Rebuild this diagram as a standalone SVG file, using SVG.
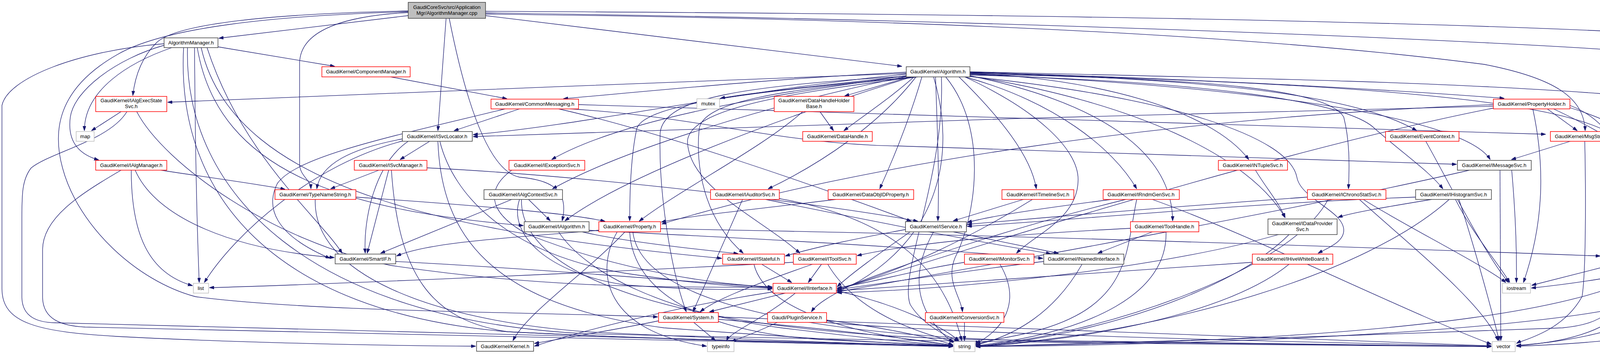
<svg xmlns="http://www.w3.org/2000/svg" width="4553" height="907" viewBox="0 0 4553 907">
<defs>
<marker id="ah" viewBox="0 0 12 8" refX="12" refY="4" markerWidth="12" markerHeight="8" markerUnits="userSpaceOnUse" orient="auto"><path d="M0,0 L12,4 L0,8 z" fill="#191970" stroke="#191970"/></marker>
</defs>
<style>
.n rect{fill:#ffffff;stroke-width:1.5}
.r rect{stroke:#ff0000}
.b rect{stroke:#404040}
.g rect{stroke:#bfbfbf}
.root rect{fill:#bfbfbf;stroke:#404040}
text{font-family:"Liberation Sans",Arial,sans-serif;font-size:13px;text-anchor:middle;fill:#000000}
#edges path{fill:none;stroke:#191970;stroke-width:1.3;marker-end:url(#ah)}
</style>
<rect x="0" y="0" width="4553" height="907" fill="#ffffff"/>
<g id="edges">
<path d="M1045,40 L560,98"/>
<path d="M1045,28 C700,35 450,60 400,110 C360,150 345,200 340,245"/>
<path d="M1045,30 C700,40 420,70 300,140 C160,220 130,320 160,430 C200,580 350,720 500,760 C800,800 1400,800 1684,812"/>
<path d="M1045,32 C900,40 770,70 767,160 L767,420 C767,450 795,460 796,484"/>
<path d="M1142,47 L1121,335"/>
<path d="M1150,47 C1200,300 1260,440 1330,454 C1400,460 1460,480 1439,566"/>
<path d="M1243,40 L2309,170"/>
<path d="M1243,29 Q3600,40 4490,100"/>
<path d="M1243,33 C2500,50 3800,100 4300,140 C4440,155 4453,170 4453,200 L4453,460 C4440,600 4350,660 4270,680 C4150,710 4000,730 3920,738"/>
<path d="M1243,36 C2500,50 3300,100 3800,165 C3980,200 4055,250 4058,335"/>
<path d="M558,120 L857,170"/>
<path d="M420,116 C300,150 190,230 180,300 C172,360 200,395 253,410"/>
<path d="M440,122 C330,160 216,230 216,335"/>
<path d="M498,122 C500,420 505,600 510,724"/>
<path d="M530,122 C620,400 820,560 876,649"/>
<path d="M505,122 C560,450 900,540 1340,578"/>
<path d="M515,122 C600,500 1200,600 1848,662"/>
<path d="M420,112 C200,130 20,200 5,270 L5,740 C5,830 100,850 300,862 C600,878 1000,886 1218,887"/>
<path d="M470,122 C450,500 700,800 1300,850 C1900,880 2300,884 2440,887"/>
<path d="M480,122 C470,500 800,820 1500,855 C2500,880 3500,885 3818,888"/>
<path d="M310,286 L234,335"/>
<path d="M325,286 C280,360 130,390 80,430 C56,460 56,500 56,560 L56,760 C56,815 100,826 141,827 C700,845 1700,865 2440,886"/>
<path d="M350,286 C420,420 700,620 1000,680 C1400,740 1700,735 1977,736"/>
<path d="M2320,188 C1800,205 900,245 429,262"/>
<path d="M412,436 C500,450 650,470 730,485"/>
<path d="M336,436 C336,600 380,700 493,732"/>
<path d="M346,436 C400,560 600,640 856,660"/>
<path d="M310,436 C200,500 109,560 109,640 L109,760 C109,820 160,835 218,838 C800,855 1800,870 2440,888"/>
<path d="M1000,197 L1298,253"/>
<path d="M1330,279 L1162,335"/>
<path d="M1293,279 C1000,350 760,400 710,470 C680,530 700,600 845,662"/>
<path d="M1481,268 C2000,285 3000,315 3957,344"/>
<path d="M1460,279 C1800,300 2000,370 2300,374 C2800,390 3400,412 3729,421"/>
<path d="M1430,279 C1700,340 2100,480 2333,567"/>
<path d="M1100,362 L1024,409"/>
<path d="M1030,356 C900,380 820,420 811,484"/>
<path d="M1045,362 C960,420 930,560 935,649"/>
<path d="M1035,360 C800,420 600,600 523,724"/>
<path d="M1121,362 C1130,600 1250,780 1700,840 C2100,870 2300,880 2440,886"/>
<path d="M1126,362 C1160,500 1300,650 1600,700 C1800,730 1900,735 1977,738"/>
<path d="M970,436 L846,484"/>
<path d="M995,436 L940,649"/>
<path d="M1002,436 C1020,700 1100,820 1300,850 C1800,875 2300,882 2440,886"/>
<path d="M1093,430 C1500,450 2100,520 2350,567"/>
<path d="M1310,436 C1250,480 1240,540 1350,600 C1600,700 1850,730 1977,735"/>
<path d="M911,505 C1200,525 1450,545 1549,567"/>
<path d="M807,511 C800,700 1100,820 1500,850 C2000,875 2300,883 2440,886"/>
<path d="M1310,511 L974,649"/>
<path d="M1353,511 L1409,566"/>
<path d="M1330,511 C1300,600 1400,700 1600,730 C1800,745 1900,742 1977,740"/>
<path d="M1335,511 C1330,700 1700,850 2500,870 C3200,882 3600,886 3818,888"/>
<path d="M1508,590 C1900,610 2300,630 2670,662"/>
<path d="M1490,594 C1600,620 1800,640 1890,650"/>
<path d="M1430,594 C1500,700 1700,800 2000,840 C2250,870 2350,880 2440,885"/>
<path d="M1013,670 C1400,690 1800,725 1977,736"/>
<path d="M2099,286 L2134,335"/>
<path d="M2055,286 C1950,380 1750,480 1636,567"/>
<path d="M1901,511 L1774,799"/>
<path d="M1960,511 C2200,560 2500,620 2690,650"/>
<path d="M1990,508 C2300,560 2420,700 2462,873"/>
<path d="M2140,511 C1900,540 1750,555 1693,569"/>
<path d="M1533,590 C1300,610 1100,620 1015,656"/>
<path d="M1600,594 C1500,700 1350,800 1313,873"/>
<path d="M1580,594 C1520,700 1550,850 1809,887"/>
<path d="M1612,594 C1620,750 1800,850 2100,870 C2300,880 2400,884 2440,886"/>
<path d="M1620,594 C1640,760 2000,860 2700,875 C3300,882 3700,886 3818,888"/>
<path d="M1691,586 C2500,600 3400,630 4097,656"/>
<path d="M1950,677 L2027,724"/>
<path d="M1930,677 C1960,800 2200,860 2440,884"/>
<path d="M2103,677 L2069,724"/>
<path d="M2080,677 C1900,740 1830,770 1792,799"/>
<path d="M2031,672 C1500,700 800,730 536,737"/>
<path d="M2119,677 C2180,780 2300,840 2445,876"/>
<path d="M2010,751 L1816,799"/>
<path d="M2036,751 C1950,820 1870,850 1860,873"/>
<path d="M2141,745 C2300,780 2420,840 2455,874"/>
<path d="M1979,748 C1700,790 1450,860 1368,887"/>
<path d="M1776,826 L1832,873"/>
<path d="M1686,822 C1550,850 1420,870 1368,880"/>
<path d="M1839,818 C2100,840 2350,870 2440,885"/>
<path d="M1839,812 C2500,840 3500,870 3818,886"/>
<path d="M1990,826 C1940,850 1900,865 1872,875"/>
<path d="M2116,820 C2300,845 2400,870 2440,884"/>
<path d="M2110,826 C2500,860 3500,880 3818,887"/>
<path d="M2320,185 C2000,200 1700,230 1442,253"/>
<path d="M2320,190 C1900,230 1500,320 1211,345"/>
<path d="M2320,194 C2000,240 1600,300 1412,409"/>
<path d="M2325,194 C2100,220 1900,240 1844,252"/>
<path d="M2330,197 C2250,220 2200,235 2162,246"/>
<path d="M2340,197 C2280,250 2220,290 2160,335"/>
<path d="M2330,194 C2000,260 1600,380 1414,484"/>
<path d="M2335,197 C2000,300 1600,450 1446,566"/>
<path d="M2340,197 C2000,230 1650,260 1630,330 C1615,400 1612,500 1612,566"/>
<path d="M2345,197 C2250,320 2100,420 1966,484"/>
<path d="M2360,197 C2330,300 2290,400 2252,484"/>
<path d="M2345,197 C2000,230 1800,260 1790,330 C1780,420 1800,560 1903,649"/>
<path d="M2350,197 C2000,240 1770,280 1760,360 C1760,480 1950,560 2048,649"/>
<path d="M2340,194 C1900,220 1700,250 1690,340 C1685,500 1720,700 1757,799"/>
<path d="M2390,197 C2450,400 2400,600 2200,720 C2120,760 2090,780 2077,799"/>
<path d="M2395,197 C2400,350 2405,450 2401,566"/>
<path d="M2455,197 C2560,300 2640,400 2653,484"/>
<path d="M2470,197 C2700,260 2850,380 2910,484"/>
<path d="M2483,194 C2800,260 3000,380 3002,566"/>
<path d="M2470,197 C2650,280 2760,380 2760,460 C2760,560 2650,600 2602,649"/>
<path d="M2421,197 C2530,330 2500,550 2445,660 C2420,720 2460,760 2464,799"/>
<path d="M2410,197 C2420,450 2300,700 2330,780 C2360,830 2420,860 2455,875"/>
<path d="M2483,188 C2800,200 3100,280 3197,409"/>
<path d="M2483,186 C3000,200 3450,230 3627,335"/>
<path d="M2483,190 C3200,220 3750,300 3815,409"/>
<path d="M2483,190 C3100,200 3400,230 3440,300 C3455,360 3455,420 3452,484"/>
<path d="M2483,192 C3100,210 3450,260 3520,330 C3600,400 3660,440 3694,484"/>
<path d="M2483,195 C2900,260 3200,400 3290,558"/>
<path d="M2483,196 C3000,250 3300,350 3320,454 C3330,510 3440,540 3440,590 C3440,620 3400,635 3374,649"/>
<path d="M2483,185 C3000,200 3500,225 3851,252"/>
<path d="M2483,187 C3300,210 3900,240 4100,330 C4215,400 4222,500 4222,560 C4222,600 4200,630 4188,649"/>
<path d="M2483,184 C3200,200 3700,210 4100,240 C4350,260 4505,300 4505,400 L4505,720 C4500,850 4100,880 3882,887"/>
<path d="M2440,594 L2710,649"/>
<path d="M2318,588 C2200,610 2100,630 2010,656"/>
<path d="M2390,594 C2330,700 2340,800 2440,878"/>
<path d="M2330,594 C2250,650 2180,700 2143,735"/>
<path d="M2620,511 L2440,566"/>
<path d="M2643,511 C2500,600 2300,700 2143,740"/>
<path d="M2845,511 C2700,530 2550,550 2476,570"/>
<path d="M2882,511 C2600,580 2300,680 2143,745"/>
<path d="M2910,511 C2880,650 2900,800 2600,860 C2520,875 2500,880 2498,885"/>
<path d="M2950,511 C3200,600 3600,800 3818,882"/>
<path d="M2950,594 L2810,649"/>
<path d="M2894,585 C2600,600 2350,620 2194,655"/>
<path d="M2985,594 C2990,750 2800,850 2498,886"/>
<path d="M2470,672 C2350,690 2250,720 2143,738"/>
<path d="M2560,677 C2620,780 2560,850 2498,880"/>
<path d="M2672,670 C2500,690 2300,720 2143,742"/>
<path d="M2770,677 C2700,800 2600,860 2498,884"/>
<path d="M2469,826 L2469,873"/>
<path d="M3214,436 C3240,480 3275,520 3290,558"/>
<path d="M3650,362 C3700,450 3800,650 3862,724"/>
<path d="M3870,436 C3880,550 3883,650 3882,724"/>
<path d="M3762,436 C3400,520 2700,650 2143,748"/>
<path d="M3840,436 C3840,600 3842,750 3842,873"/>
<path d="M3347,505 C3000,530 2700,555 2476,575"/>
<path d="M3490,511 C3600,580 3800,680 3855,724"/>
<path d="M3480,511 C3600,620 3800,780 3835,873"/>
<path d="M3400,511 C3300,700 2800,860 2498,887"/>
<path d="M3624,505 C3200,520 2800,560 2476,580"/>
<path d="M3665,511 C3550,530 3460,545 3425,557"/>
<path d="M3710,511 C3500,700 3000,850 2498,888"/>
<path d="M3726,511 C3770,600 3840,680 3865,724"/>
<path d="M3735,511 C3780,650 3820,800 3838,873"/>
<path d="M3273,601 C3000,680 2500,740 2143,750"/>
<path d="M3300,601 C3150,750 2800,860 2498,888"/>
<path d="M3206,672 C2800,700 2400,730 2143,745"/>
<path d="M3300,677 C3150,800 2800,870 2498,888"/>
<path d="M3823,268 C3000,300 2200,420 1694,574"/>
<path d="M3823,272 C3000,290 2000,320 1211,350"/>
<path d="M3823,277 C3300,380 2600,600 2143,743"/>
<path d="M3961,279 L4038,335"/>
<path d="M3924,279 C3950,400 3960,550 3900,724"/>
<path d="M4019,270 C4150,320 4183,450 4183,649"/>
<path d="M4019,276 C4200,330 4380,460 4400,560 C4410,800 4100,870 3882,885"/>
<path d="M3977,279 C4150,360 4290,450 4290,600 C4290,800 3500,875 2498,887"/>
<path d="M4020,362 L3869,409"/>
<path d="M4057,362 C4060,500 4060,700 4050,760 C4000,850 3900,870 3882,880"/>
<path d="M4117,362 C4300,440 4350,600 4350,700 C4350,850 3000,885 2498,888"/>
<path d="M4133,677 L3921,731"/>
<path d="M4178,677 C4150,800 4100,830 4000,840 C3500,860 2800,880 2498,888"/>
<path d="M4186,677 C4210,800 4100,870 3882,886"/>
</g>
<g id="n_cpp" class="n root"><rect x="1045" y="6" width="198" height="41"/><text x="1144" y="23">GaudiCoreSvc/src/Application</text><text x="1144" y="38">Mgr/AlgorithmManager.cpp</text></g>
<g id="n_AM" class="n b"><rect x="420" y="97" width="138" height="25"/><text x="489" y="114">AlgorithmManager.h</text></g>
<g id="n_AES" class="n r"><rect x="245" y="247" width="182" height="39"/><text x="336" y="262">GaudiKernel/IAlgExecState</text><text x="336" y="277">Svc.h</text></g>
<g id="n_map" class="n g"><rect x="195" y="337" width="46" height="25"/><text x="218" y="354">map</text></g>
<g id="n_IAM" class="n r"><rect x="245" y="411" width="182" height="25"/><text x="336" y="428">GaudiKernel/IAlgManager.h</text></g>
<g id="n_list" class="n g"><rect x="495" y="726" width="39" height="25"/><text x="514" y="743">list</text></g>
<g id="n_TNS" class="n r"><rect x="704" y="486" width="207" height="25"/><text x="807" y="503">GaudiKernel/TypeNameString.h</text></g>
<g id="n_CM" class="n r"><rect x="824" y="171" width="226" height="26"/><text x="937" y="188">GaudiKernel/ComponentManager.h</text></g>
<g id="n_CMsg" class="n r"><rect x="1257" y="254" width="224" height="25"/><text x="1369" y="271">GaudiKernel/CommonMessaging.h</text></g>
<g id="n_SL" class="n b"><rect x="1030" y="337" width="179" height="25"/><text x="1119" y="354">GaudiKernel/ISvcLocator.h</text></g>
<g id="n_SM" class="n r"><rect x="907" y="411" width="186" height="25"/><text x="1000" y="428">GaudiKernel/ISvcManager.h</text></g>
<g id="n_ES" class="n r"><rect x="1303" y="411" width="194" height="25"/><text x="1400" y="428">GaudiKernel/IExceptionSvc.h</text></g>
<g id="n_ACS" class="n b"><rect x="1239" y="486" width="201" height="25"/><text x="1339" y="503">GaudiKernel/IAlgContextSvc.h</text></g>
<g id="n_IA" class="n b"><rect x="1342" y="568" width="166" height="26"/><text x="1425" y="585">GaudiKernel/IAlgorithm.h</text></g>
<g id="n_SIF" class="n b"><rect x="858" y="651" width="155" height="25"/><text x="935" y="668">GaudiKernel/SmartIF.h</text></g>
<g id="n_K" class="n b"><rect x="1220" y="875" width="146" height="25"/><text x="1293" y="892">GaudiKernel/Kernel.h</text></g>
<g id="n_mutex" class="n g"><rect x="1784" y="253" width="58" height="26"/><text x="1813" y="270">mutex</text></g>
<g id="n_DHHB" class="n r"><rect x="1982" y="247" width="204" height="39"/><text x="2084" y="262">GaudiKernel/DataHandleHolder</text><text x="2084" y="277">Base.h</text></g>
<g id="n_DH" class="n r"><rect x="2055" y="337" width="178" height="25"/><text x="2144" y="354">GaudiKernel/DataHandle.h</text></g>
<g id="n_AUD" class="n r"><rect x="1819" y="486" width="176" height="25"/><text x="1907" y="503">GaudiKernel/IAuditorSvc.h</text></g>
<g id="n_DOP" class="n r"><rect x="2120" y="486" width="219" height="25"/><text x="2229" y="503">GaudiKernel/DataObjIDProperty.h</text></g>
<g id="n_P" class="n r"><rect x="1533" y="568" width="158" height="26"/><text x="1612" y="585">GaudiKernel/Property.h</text></g>
<g id="n_ST" class="n r"><rect x="1850" y="651" width="158" height="26"/><text x="1929" y="668">GaudiKernel/IStateful.h</text></g>
<g id="n_TS" class="n r"><rect x="2031" y="651" width="161" height="26"/><text x="2111" y="668">GaudiKernel/IToolSvc.h</text></g>
<g id="n_II" class="n r"><rect x="1979" y="726" width="162" height="25"/><text x="2060" y="743">GaudiKernel/IInterface.h</text></g>
<g id="n_SYS" class="n r"><rect x="1686" y="801" width="153" height="25"/><text x="1762" y="818">GaudiKernel/System.h</text></g>
<g id="n_PS" class="n r"><rect x="1965" y="801" width="151" height="25"/><text x="2040" y="818">Gaudi/PluginService.h</text></g>
<g id="n_TI" class="n g"><rect x="1811" y="875" width="68" height="26"/><text x="1845" y="892">typeinfo</text></g>
<g id="n_ALG" class="n b"><rect x="2320" y="171" width="163" height="26"/><text x="2401" y="188">GaudiKernel/Algorithm.h</text></g>
<g id="n_SV" class="n b"><rect x="2318" y="568" width="156" height="26"/><text x="2396" y="585">GaudiKernel/IService.h</text></g>
<g id="n_TL" class="n r"><rect x="2565" y="486" width="184" height="25"/><text x="2657" y="503">GaudiKernel/ITimelineSvc.h</text></g>
<g id="n_RG" class="n r"><rect x="2824" y="486" width="195" height="25"/><text x="2921" y="503">GaudiKernel/IRndmGenSvc.h</text></g>
<g id="n_TH" class="n r"><rect x="2894" y="568" width="175" height="26"/><text x="2981" y="585">GaudiKernel/ToolHandle.h</text></g>
<g id="n_MON" class="n r"><rect x="2469" y="651" width="178" height="26"/><text x="2558" y="668">GaudiKernel/IMonitorSvc.h</text></g>
<g id="n_NI" class="n b"><rect x="2672" y="651" width="205" height="26"/><text x="2774" y="668">GaudiKernel/INamedInterface.h</text></g>
<g id="n_CS" class="n r"><rect x="2369" y="801" width="201" height="25"/><text x="2469" y="818">GaudiKernel/IConversionSvc.h</text></g>
<g id="n_STR" class="n g"><rect x="2442" y="875" width="54" height="26"/><text x="2469" y="892">string</text></g>
<g id="n_NT" class="n r"><rect x="3119" y="411" width="177" height="25"/><text x="3207" y="428">GaudiKernel/INTupleSvc.h</text></g>
<g id="n_EC" class="n r"><rect x="3547" y="337" width="188" height="25"/><text x="3641" y="354">GaudiKernel/EventContext.h</text></g>
<g id="n_MS" class="n b"><rect x="3731" y="411" width="189" height="25"/><text x="3825" y="428">GaudiKernel/IMessageSvc.h</text></g>
<g id="n_CHR" class="n r"><rect x="3347" y="486" width="201" height="25"/><text x="3447" y="503">GaudiKernel/IChronoStatSvc.h</text></g>
<g id="n_HS" class="n b"><rect x="3624" y="486" width="194" height="25"/><text x="3721" y="503">GaudiKernel/IHistogramSvc.h</text></g>
<g id="n_DP" class="n b"><rect x="3246" y="561" width="177" height="40"/><text x="3334" y="577">GaudiKernel/IDataProvider</text><text x="3334" y="592">Svc.h</text></g>
<g id="n_HWB" class="n r"><rect x="3206" y="651" width="206" height="26"/><text x="3309" y="668">GaudiKernel/IHiveWhiteBoard.h</text></g>
<g id="n_ERR" class="n g"><rect x="4492" y="97" width="60" height="25"/><text x="4522" y="114">errno.h</text></g>
<g id="n_PH" class="n r"><rect x="3823" y="254" width="196" height="25"/><text x="3921" y="271">GaudiKernel/PropertyHolder.h</text></g>
<g id="n_MSG" class="n r"><rect x="3969" y="337" width="176" height="25"/><text x="4057" y="354">GaudiKernel/MsgStream.h</text></g>
<g id="n_IP" class="n r"><rect x="4099" y="651" width="163" height="26"/><text x="4180" y="668">GaudiKernel/IProperty.h</text></g>
<g id="n_IOS" class="n g"><rect x="3846" y="726" width="72" height="25"/><text x="3882" y="743">iostream</text></g>
<g id="n_VEC" class="n g"><rect x="3820" y="875" width="59" height="26"/><text x="3849" y="892">vector</text></g>
</svg>
